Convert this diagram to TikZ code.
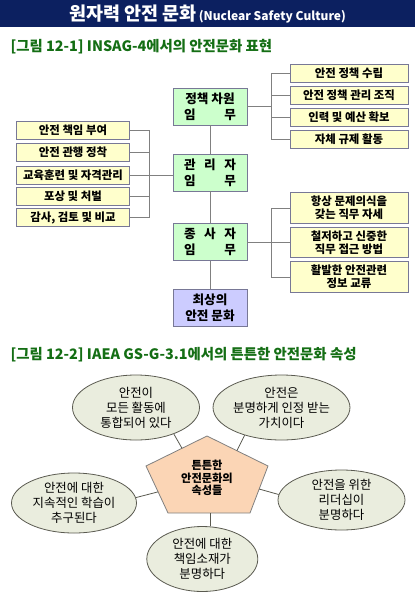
\documentclass[tikz,border=0pt]{standalone}
\usepackage{fontspec}
\setmainfont{Noto Sans CJK KR}
\usepackage{tikz}
\usetikzlibrary{positioning,calc,shapes.geometric}
\definecolor{NavyBand}{RGB}{12,32,96}
\definecolor{TitleGreen}{RGB}{20,110,20}
\definecolor{ItemYellow}{RGB}{255,255,204}
\definecolor{DutyGreen}{RGB}{204,255,204}
\definecolor{GoalLilac}{RGB}{204,204,255}
\definecolor{BoxLine}{RGB}{120,120,150}
\definecolor{EdgeGray}{RGB}{128,128,128}
\definecolor{AttrOlive}{RGB}{234,237,222}
\definecolor{AttrLine}{RGB}{90,90,80}
\definecolor{CorePeach}{RGB}{251,213,181}
\newcommand{\spanline}[1]{\makebox[52pt]{#1}}
\tikzset{
  itembox/.style={draw=BoxLine,fill=ItemYellow,line width=0.9pt,inner sep=0pt,
    minimum height=18pt,align=center,font=\fontsize{11.4}{13}\selectfont\bfseries},
  dutybox/.style={draw=BoxLine,fill=DutyGreen,line width=0.9pt,inner sep=0pt,
    minimum width=74pt,minimum height=37pt,align=center,font=\fontsize{12.6}{16}\selectfont\bfseries},
  goalbox/.style={dutybox,fill=GoalLilac},
  link/.style={draw=EdgeGray,line width=0.9pt},
  attr/.style={ellipse,draw=AttrLine,fill=AttrOlive,line width=0.8pt,inner sep=0pt,
    align=center,font=\fontsize{12.4}{15}\selectfont},
  spoke/.style={draw=AttrLine,line width=0.8pt},
  caption/.style={anchor=west,text=TitleGreen,font=\fontsize{14.4}{16}\selectfont\bfseries},
}

\begin{document}
\begin{tikzpicture}[x=1pt,y=-1pt]
\useasboundingbox (0,0) rectangle (415,600);
% header band
\fill[NavyBand] (0,0) rectangle (415,27);
\node[text=white] (head) at (207.5,14)
  {{\fontsize{18.5}{21}\selectfont\bfseries 원자력 안전 문화} {\fontsize{12}{14}\selectfont\bfseries (Nuclear Safety Culture)}};

% figure 12-1
\node[caption] (cap1) at (7,46.5) {[그림 12-1] INSAG-4에서의 안전문화 표현};

\node[dutybox] (policy) at (210,106.5) {정책 차원\\\spanline{임\hfill 무}};
\node[dutybox] (manager) at (210,172.5) {\spanline{관\hfill 리\hfill 자}\\\spanline{임\hfill 무}};
\node[dutybox] (staff) at (210,242) {\spanline{종\hfill 사\hfill 자}\\\spanline{임\hfill 무}};
\node[goalbox] (goal) at (210,308) {최상의\\안전 문화};

\node[itembox,minimum width=118pt] (r1) at (349,73) {안전 정책 수립};
\node[itembox,minimum width=118pt] (r2) at (349,95.5) {안전 정책 관리 조직};
\node[itembox,minimum width=118pt] (r3) at (349,117) {인력 및 예산 확보};
\node[itembox,minimum width=118pt] (r4) at (349,139) {자체 규제 활동};

\node[itembox,minimum width=113pt] (l1) at (73,130) {안전 책임 부여};
\node[itembox,minimum width=113pt] (l2) at (73,152) {안전 관행 정착};
\node[itembox,minimum width=113pt] (l3) at (73,175) {교육훈련 및 자격관리};
\node[itembox,minimum width=113pt] (l4) at (73,196) {포상 및 처벌};
\node[itembox,minimum width=113pt] (l5) at (73,217.5) {감사, 검토 및 비교};

\node[itembox,minimum width=118pt,minimum height=31pt] (r5) at (349,208) {항상 문제의식을\\갖는 직무 자세};
\node[itembox,minimum width=118pt,minimum height=30pt] (r6) at (349,242.3) {철저하고 신중한\\직무 접근 방법};
\node[itembox,minimum width=118pt,minimum height=31pt] (r7) at (349,277) {활발한 안전관련\\정보 교류};

\coordinate (lbus) at (149,0);
\coordinate (rbus) at (271.7,0);

\draw[link] (policy) -- (manager);
\draw[link] (manager) -- (staff);
\draw[link] (staff) -- (goal);

\draw[link] (r1.west) -- (r1.west -| rbus) -- (r4.west -| rbus) -- (r4.west);
\draw[link] (r2.west) -- (r2.west -| rbus);
\draw[link] (r3.west) -- (r3.west -| rbus);
\draw[link] (policy.east) -- (policy.east -| rbus);

\draw[link] (l1.east) -- (l1.east -| lbus) -- (l5.east -| lbus) -- (l5.east);
\draw[link] (l2.east) -- (l2.east -| lbus);
\draw[link] (l4.east) -- (l4.east -| lbus);
\draw[link] (l3.east) -- (l3.east -| manager.west);

\draw[link] (r5.west) -- (r5.west -| rbus) -- (r7.west -| rbus) -- (r7.west);
\draw[link] (r6.west) -- (r6.west -| rbus);
\draw[link] (staff.east) -- (staff.east -| rbus);

% figure 12-2
\node[caption] (cap2) at (7,355) {[그림 12-2] IAEA GS-G-3.1에서의 튼튼한 안전문화 속성};

\coordinate (pt) at (207,436);
\coordinate (pl) at (146,466);
\coordinate (pbl) at (168,513);
\coordinate (pbr) at (250,513);
\coordinate (pr) at (268,466);
\draw[draw=EdgeGray,fill=CorePeach,line width=0.8pt] (pt) -- (pr) -- (pbr) -- (pbl) -- (pl) -- cycle;
\node[align=center,font=\fontsize{11.2}{12.6}\selectfont\bfseries] (core) at (207,478) {튼튼한\\안전문화의\\속성들};

\node[attr,minimum width=127pt,minimum height=65pt] (a1) at (136,407.5) {안전이\\모든 활동에\\통합되어 있다};
\node[attr,minimum width=123pt,minimum height=65pt] (a2) at (281.5,407.5) {안전은\\분명하게 인정 받는\\가치이다};
\node[attr,minimum width=125pt,minimum height=60pt] (a3) at (74,503) {안전에 대한\\지속적인 학습이\\추구된다};
\node[attr,minimum width=127pt,minimum height=60pt] (a4) at (341.5,500) {안전을 위한\\리더십이\\분명하다};
\node[attr,minimum width=111pt,minimum height=65pt] (a5) at (202.3,559) {안전에 대한\\책임소재가\\분명하다};

\draw[spoke] (a1.-35) -- ($(pt)!0.41!(pl)$);
\draw[spoke] (a2.-143) -- ($(pt)!0.49!(pr)$);
\draw[spoke] (a3.5) -- ($(pl)!0.55!(pbl)$);
\draw[spoke] (a4.175) -- ($(pr)!0.49!(pbr)$);
\draw[spoke] (a5.76) -- (a5.76 |- pbl);
\end{tikzpicture}
\end{document}
